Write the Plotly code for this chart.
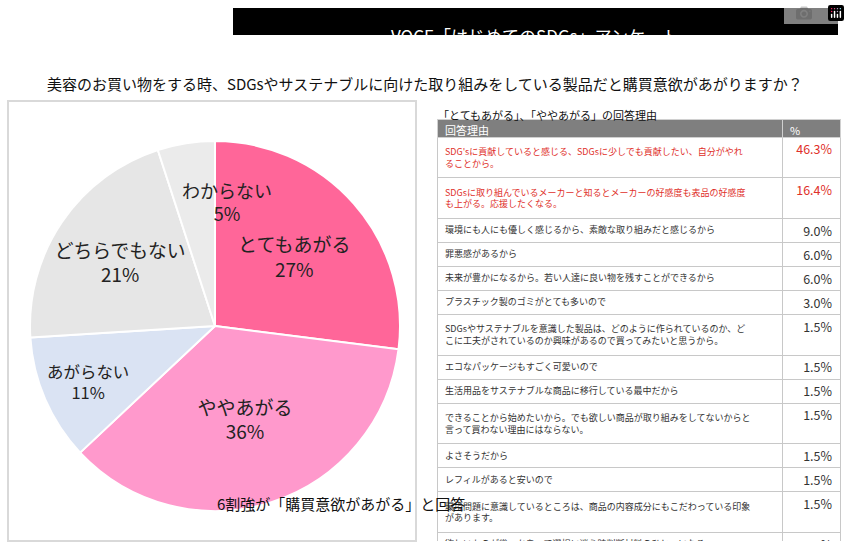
import plotly.graph_objects as go

labels = ["とてもあがる", "ややあがる", "あがらない", "どちらでもない", "わからない"]
values = [27, 36, 11, 21, 5]
colors = ["#ff6699", "#ff99cc", "#dae3f3", "#e6e6e6", "#ebebeb"]

reasons = [
    "SDG'sに貢献していると感じる、SDGsに少しでも貢献したい、自分がやれ<br>ることから。",
    "SDGsに取り組んでいるメーカーと知るとメーカーの好感度も表品の好感度<br>も上がる。応援したくなる。",
    "環境にも人にも優しく感じるから、素敵な取り組みだと感じるから",
    "罪悪感があるから",
    "未来が豊かになるから。若い人達に良い物を残すことができるから",
    "プラスチック製のゴミがとても多いので",
    "SDGsやサステナブルを意識した製品は、どのように作られているのか、ど<br>こに工夫がされているのか興味があるので買ってみたいと思うから。",
    "エコなパッケージもすごく可愛いので",
    "生活用品をサステナブルな商品に移行している最中だから",
    "できることから始めたいから。でも欲しい商品が取り組みをしてないからと<br>言って買わない理由にはならない。",
    "よさそうだから",
    "レフィルがあると安いので",
    "環境問題に意識しているところは、商品の内容成分にもこだわっている印象<br>があります。",
    "欲しいものが幾つかあって選択に迷う時判断材料のひとつになる",
    "取り組みすらしていないと、時代遅れな感じや無責任な感じがする",
]
pcts = ["46.3%", "16.4%", "9.0%", "6.0%", "6.0%", "3.0%", "1.5%", "1.5%", "1.5%",
        "1.5%", "1.5%", "1.5%", "1.5%", "1.5%", "1.5%"]

F = "Noto Sans CJK JP"
W, H = 850, 550
fig = go.Figure()

pie_text = [f"{l}<br>{v}%" for l, v in zip(labels, values)]
pie_text[-1] = ""
fig.add_trace(go.Pie(
    labels=labels, values=values, sort=False, direction="clockwise", rotation=0,
    marker=dict(colors=colors, line=dict(color="white", width=2)),
    text=pie_text, textinfo="text", textposition="inside",
    insidetextorientation="horizontal",
    textfont=dict(family=F, size=19, color="#222"),
    domain=dict(x=[30/W, 400/W], y=[1-512/H, 1-140/H]),
    showlegend=False, hoverinfo="skip",
))

red = "#e0302a"
fc = [[red if i < 2 else "#333" for i in range(len(reasons))]] * 2
pct_cells = ["<span style='font-size:3px'> </span><br>" + p for p in pcts]
fig.add_trace(go.Table(
    domain=dict(x=[437/W, 840/W], y=[1-541/H, 1-119/H]),
    columnwidth=[345, 58],
    header=dict(values=["回答理由", "%"], fill_color="#7f7f7f",
                font=dict(family=F, size=11, color="white"), align="left",
                height=18, line=dict(color="#d0d0d0", width=1)),
    cells=dict(values=[reasons, pcts], fill_color="white",
               font=dict(family=F, size=[9, 12.5], color=fc),
               align=["left", "right"], height=24,
               line=dict(color="#c8c8c8", width=1)),
))

shapes = [
    dict(type="rect", xref="paper", yref="paper", x0=233/W, x1=838/W, y0=1-35/H, y1=1-8/H,
         fillcolor="black", line=dict(width=0)),
    dict(type="rect", xref="paper", yref="paper", x0=8/W, x1=416/W, y0=1-541/H, y1=1-101/H,
         fillcolor="rgba(0,0,0,0)", line=dict(color="#d9d9d9", width=2)),
]
annotations = [
    dict(text="VOCE「はじめてのSDGs」アンケート", x=535/W, y=1-21/H, xref="paper", yref="paper",
         showarrow=False, font=dict(family=F, size=17, color="white")),
    dict(text="美容のお買い物をする時、SDGsやサステナブルに向けた取り組みをしている製品だと購買意欲があがりますか？",
         x=425/W, y=1-71/H, xref="paper", yref="paper", showarrow=False,
         font=dict(family=F, size=15, color="#111")),
    dict(text="「とてもあがる」、「ややあがる」の回答理由", x=436/W, y=1-105/H, xref="paper", yref="paper",
         xanchor="left", showarrow=False, font=dict(family=F, size=11, color="#111")),
    dict(text="わからない<br>5%", x=180/W, y=1-175/H, xref="paper", yref="paper",
         showarrow=False, font=dict(family=F, size=18, color="#222")),
    dict(text="6割強が「購買意欲があがる」と回答", x=215/W, y=1-516/H, xref="paper", yref="paper",
         showarrow=False, font=dict(family=F, size=15, color="#111")),
]
fig.update_layout(width=W, height=H, margin=dict(l=0, r=0, t=0, b=0),
                  paper_bgcolor="white", shapes=shapes, annotations=annotations)
fig.write_html("out.html", post_script="document.body.style.margin='0';document.body.style.overflow='hidden';")
